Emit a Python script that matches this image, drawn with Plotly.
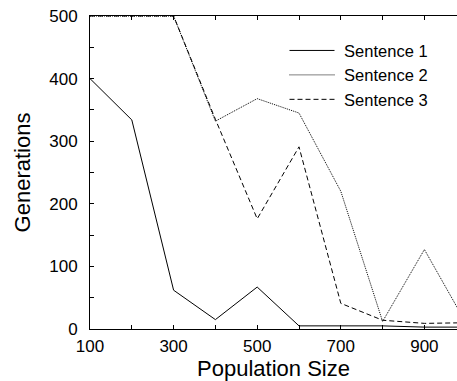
import plotly.graph_objects as go

pop_size = [100, 200, 300, 400, 500, 600, 700, 800, 900, 1000]
sentence1 = [400, 334, 62, 15, 67, 5, 5, 5, 3, 3]
sentence2 = [500, 500, 500, 332, 368, 345, 220, 12, 127, 9]
sentence3 = [500, 500, 500, 335, 176, 291, 41, 14, 9, 10]
series_names = [" Sentence 1", " Sentence 2", " Sentence 3"]

font_family = "Liberation Sans, Arial, Helvetica, sans-serif"

fig = go.Figure()
fig.add_trace(go.Scatter(x=pop_size, y=sentence1, mode="lines", name=series_names[0],
                         line=dict(color="black", width=1, dash="solid")))
fig.add_trace(go.Scatter(x=pop_size, y=sentence2, mode="lines", name=series_names[1],
                         line=dict(color="black", width=1, dash="1px,1px")))
fig.add_trace(go.Scatter(x=pop_size, y=sentence3, mode="lines", name=series_names[2],
                         line=dict(color="black", width=1, dash="5px,3px")))

fig.update_layout(
    width=457, height=381,
    margin=dict(l=90, r=0, t=16, b=52),
    paper_bgcolor="white", plot_bgcolor="white",
    font=dict(family=font_family, size=17, color="black"),
    showlegend=True,
    legend=dict(x=0.53, y=0.945, xanchor="left", yanchor="top",
                bgcolor="rgba(0,0,0,0)", font=dict(size=16.5),
                itemwidth=45),
    xaxis=dict(
        range=[100, 978], showgrid=False, zeroline=False,
        showline=True, linecolor="black", linewidth=1, mirror="ticks",
        tickmode="linear", tick0=100, dtick=200,
        ticks="inside", ticklen=4, tickcolor="black",
        minor=dict(dtick=100, tick0=100, ticks="inside", ticklen=4, tickcolor="black"),
        tickfont=dict(size=17), ticklabelstandoff=2,
        title=dict(text="Population Size", font=dict(size=22), standoff=2),
    ),
    yaxis=dict(
        range=[0, 500], showgrid=False, zeroline=False,
        showline=True, linecolor="black", linewidth=1,
        tickmode="linear", tick0=0, dtick=100,
        ticks="inside", ticklen=4, tickcolor="black",
        minor=dict(dtick=50, ticks="inside", ticklen=4, tickcolor="black"),
        tickfont=dict(size=17), ticklabelstandoff=8,
        title=dict(text="Generations", font=dict(size=22), standoff=12),
    ),
)

fig.write_html("out.html")
